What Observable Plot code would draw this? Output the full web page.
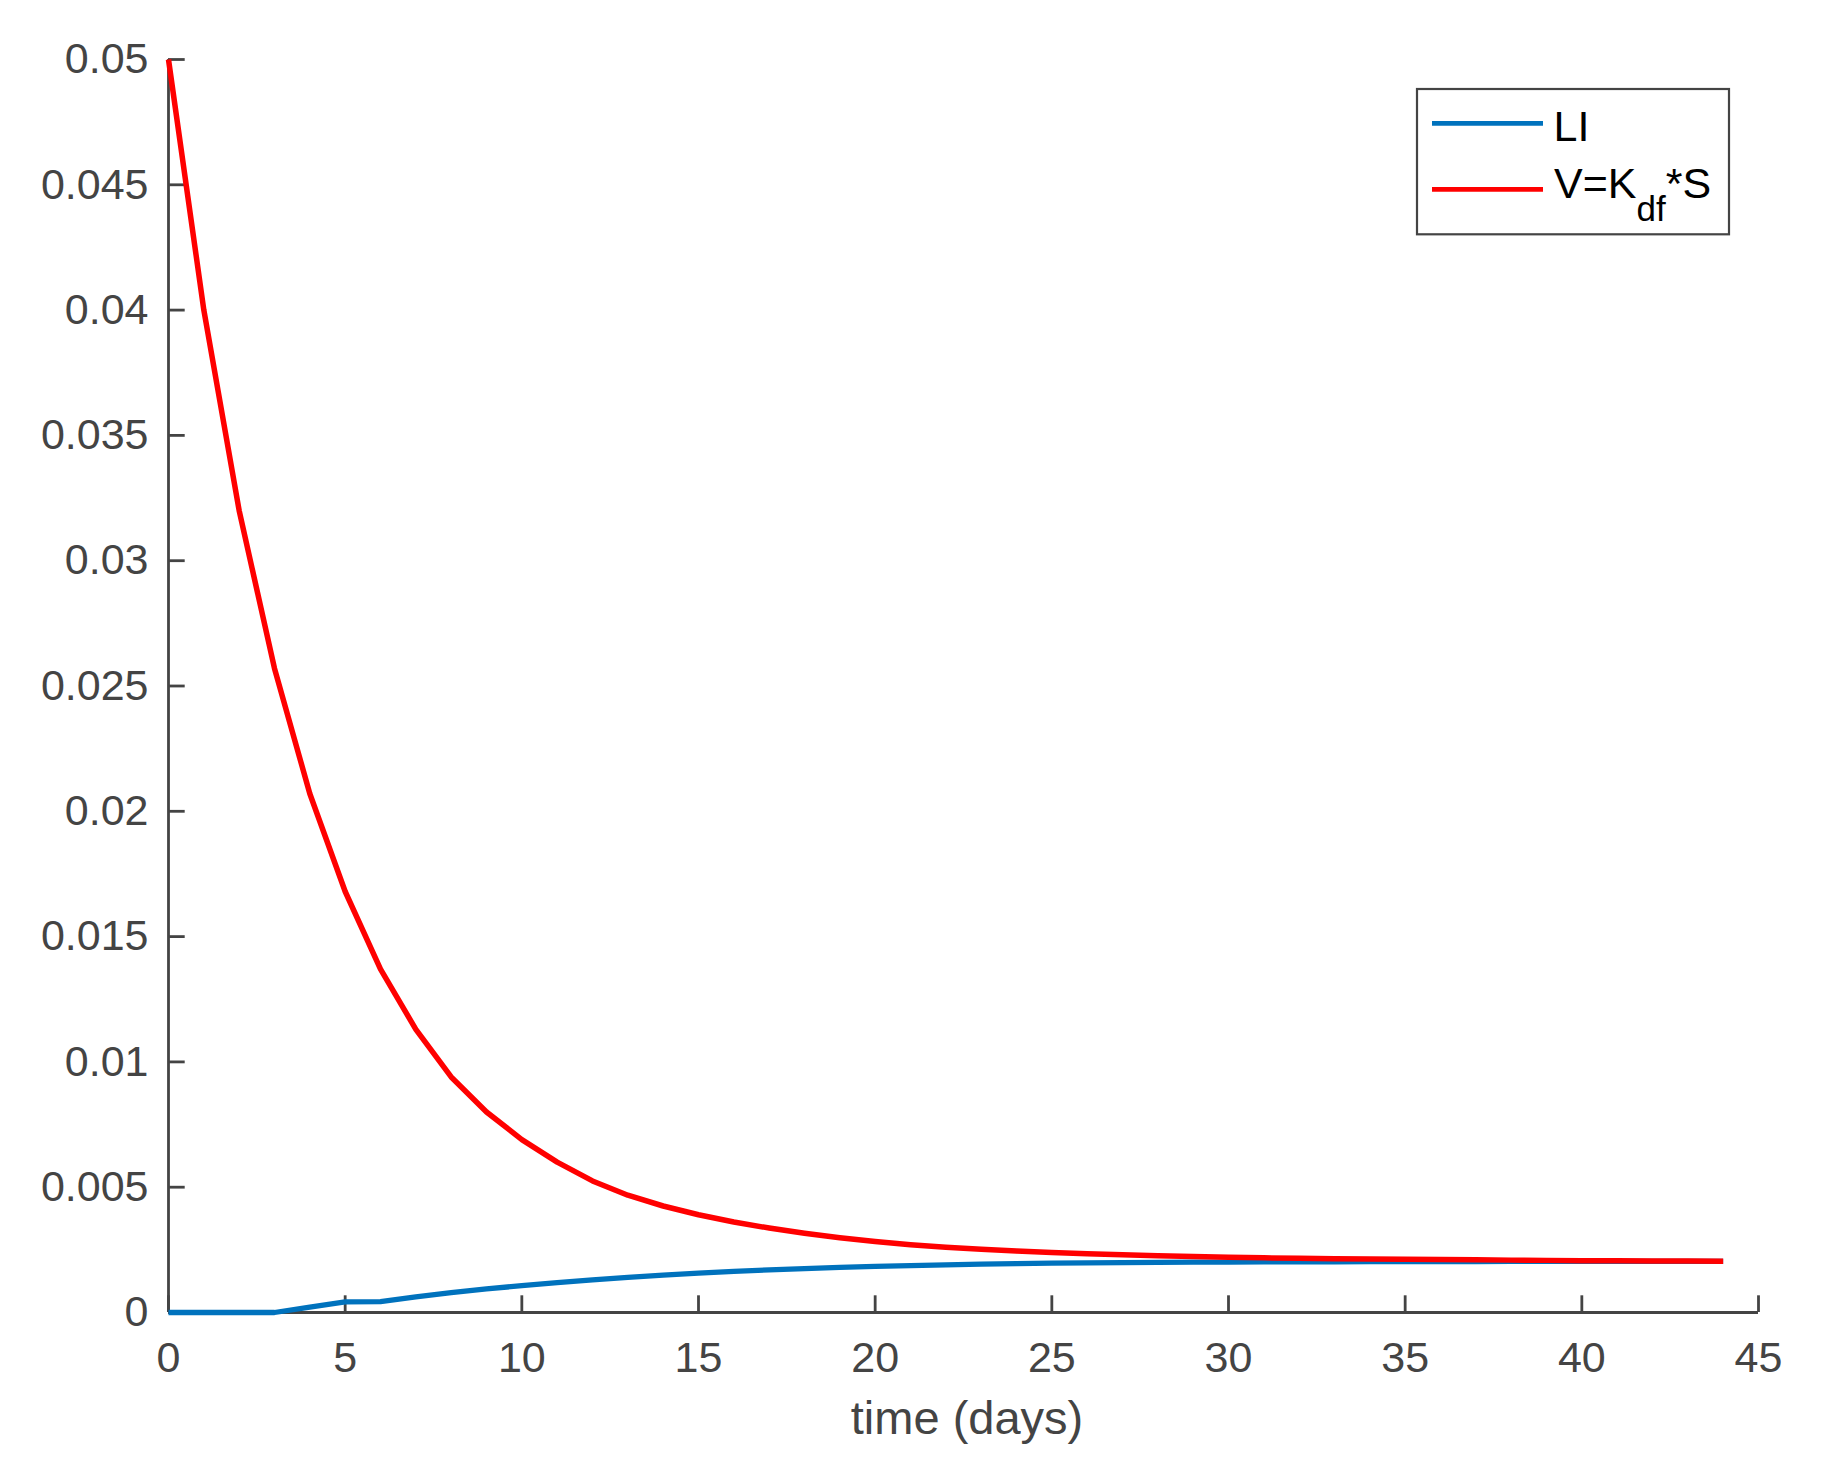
<!DOCTYPE html>
<html>
<head>
<meta charset="utf-8">
<script src="https://cdn.jsdelivr.net/npm/d3@7"></script>
<script src="https://cdn.jsdelivr.net/npm/@observablehq/plot@0.6"></script>
<style>
  html, body { margin: 0; padding: 0; background: #fff; }
  #chart { width: 1822px; height: 1462px; }
</style>
</head>
<body>
<div id="chart"></div>
<script>
// ---- data ----
const days = [0,1,2,3,4,5,6,7,8,9,10,11,12,13,14,15,16,17,18,19,20,21,22,23,24,25,26,27,28,29,30,31,32,33,34,35,36,37,38,39,40,41,42,43,44];
const LI = [0,0,0,0,0.00021,0.00042,0.00043,0.00062,0.00079,0.00094,0.00107,0.00119,0.0013,0.0014,0.00149,0.00157,0.00164,0.0017,0.00175,0.0018,0.00184,0.00187,0.0019,0.00193,0.00195,0.00197,0.00198,0.00199,0.002,0.00201,0.00201,0.00202,0.00202,0.00202,0.00203,0.00203,0.00203,0.00203,0.00204,0.00204,0.00204,0.00204,0.00204,0.00204,0.00204];
const V = [0.05,0.04,0.032,0.0257,0.0207,0.0168,0.0137,0.0113,0.0094,0.008,0.0069,0.006,0.00525,0.00468,0.00425,0.0039,0.00361,0.00337,0.00316,0.00298,0.00283,0.0027,0.0026,0.00252,0.00245,0.00239,0.00234,0.0023,0.00226,0.00223,0.0022,0.00218,0.00216,0.00214,0.00213,0.00212,0.00211,0.0021,0.00209,0.00208,0.00207,0.00207,0.00206,0.00206,0.00205];
const xTicks = [0,5,10,15,20,25,30,35,40,45];
const yTicks = [0,0.005,0.01,0.015,0.02,0.025,0.03,0.035,0.04,0.045,0.05];
const yTickLabels = ["0","0.005","0.01","0.015","0.02","0.025","0.03","0.035","0.04","0.045","0.05"];
const xLabel = "time (days)";
const seriesNames = ["LI", "V=K", "df", "*S"];
const seriesColors = ["#0072BD", "#FF0000"];

// ---- layout ----
const W = 1822, H = 1462;
const mL = 168, mR = 64, mT = 59, mB = 150;
const plotW = W - mL - mR, plotH = H - mT - mB;
const tickLen = 16.7;
const axisColor = "#444";
const font = "'Liberation Sans', Arial, Helvetica, sans-serif";

const blueData = days.map((d, i) => ({t: d, v: LI[i]}));
const redData = days.map((d, i) => ({t: d, v: V[i]}));

const chart = Plot.plot({
  width: W, height: H,
  marginLeft: mL, marginRight: mR, marginTop: mT, marginBottom: mB,
  x: {domain: [0, 45]},
  y: {domain: [0, 0.05]},
  style: {fontFamily: font, fontSize: "43px", color: axisColor, background: "#fff", overflow: "visible"},
  marks: [
    Plot.axisX(xTicks, {tickSize: 0, tickPadding: 29, label: null, fontSize: 43, fill: axisColor, tickFormat: d => String(d)}),
    Plot.axisY(yTicks, {tickSize: 0, tickPadding: 20, label: null, fontSize: 43, fill: axisColor, tickFormat: d => yTickLabels[yTicks.indexOf(d)]}),
    Plot.ruleX(xTicks, {x: d => d, insetTop: plotH - tickLen, stroke: axisColor, strokeWidth: 2.8}),
    Plot.ruleY(yTicks, {y: d => d, insetRight: plotW - tickLen, stroke: axisColor, strokeWidth: 2.8}),
    Plot.ruleY([0], {stroke: axisColor, strokeWidth: 3}),
    Plot.ruleX([0], {stroke: axisColor, strokeWidth: 2.8}),
    Plot.lineY(blueData, {x: "t", y: "v", stroke: seriesColors[0], strokeWidth: 5.3, strokeLinejoin: "round", strokeLinecap: "butt"}),
    Plot.lineY(redData, {x: "t", y: "v", stroke: seriesColors[1], strokeWidth: 5.5, strokeLinejoin: "round", strokeLinecap: "butt"})
  ]
});
document.getElementById("chart").appendChild(chart);

const svg = d3.select(chart);
// x axis label
svg.append("text")
  .attr("x", mL + plotW / 2 + 4)
  .attr("y", 1434)
  .attr("text-anchor", "middle")
  .attr("fill", axisColor)
  .style("font-family", font)
  .style("font-size", "47px")
  .text(xLabel);

// legend
const lg = svg.append("g").attr("text-anchor", "start");
lg.append("rect")
  .attr("x", 1417).attr("y", 89).attr("width", 312).attr("height", 145.3)
  .attr("fill", "#fff").attr("stroke", axisColor).attr("stroke-width", 2.2);
lg.append("line").attr("x1", 1432).attr("x2", 1543).attr("y1", 123.3).attr("y2", 123.3)
  .attr("stroke", seriesColors[0]).attr("stroke-width", 4.8);
lg.append("line").attr("x1", 1432).attr("x2", 1543).attr("y1", 189.3).attr("y2", 189.3)
  .attr("stroke", seriesColors[1]).attr("stroke-width", 4.8);
lg.append("text").attr("x", 1553.5).attr("y", 140.7).attr("text-anchor", "start")
  .attr("fill", "#000").style("font-family", font).style("font-size", "43px")
  .text(seriesNames[0]);
const t2 = lg.append("text").attr("x", 1554).attr("y", 198.3).attr("text-anchor", "start")
  .attr("fill", "#000").style("font-family", font).style("font-size", "43px");
t2.append("tspan").text(seriesNames[1]);
t2.append("tspan").attr("dy", 22.4).style("font-size", "35px").text(seriesNames[2]);
t2.append("tspan").attr("dy", -22.4).text(seriesNames[3]);
</script>
</body>
</html>
